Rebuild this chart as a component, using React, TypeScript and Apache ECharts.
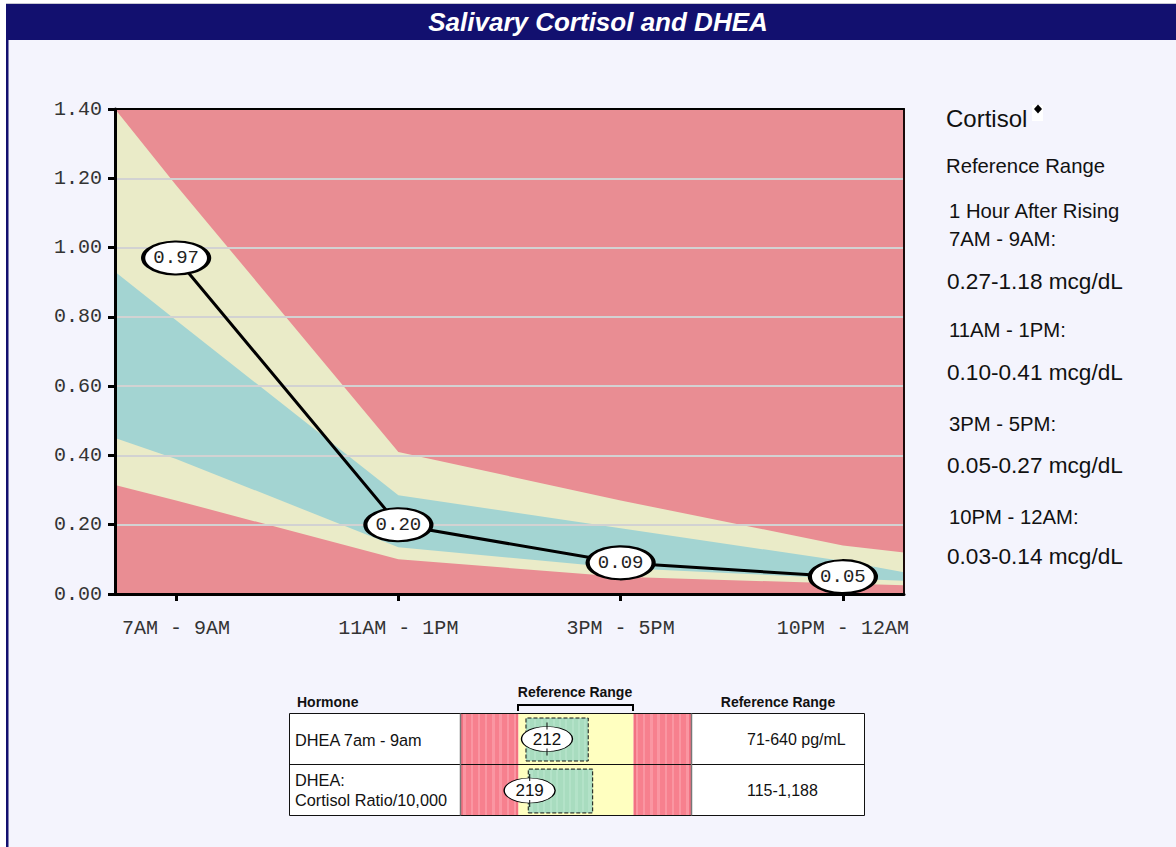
import React, { useEffect, useRef } from "react";
import * as echarts from "echarts";

// ---------- data ----------
const categories = ["7AM - 9AM", "11AM - 1PM", "3PM - 5PM", "10PM - 12AM"];
const cortisol = [0.97, 0.2, 0.09, 0.05];
const refLow = [0.27, 0.1, 0.05, 0.03];
const refHigh = [1.18, 0.41, 0.27, 0.14];

// band sample positions (category units; first / last are the plot edges)
const bandX = [-0.275, 0, 1, 2, 3, 3.275];
const upperYellowTop = [1.4, 1.18, 0.41, 0.27, 0.14, 0.12];
const tealTop = [0.93, 0.79, 0.285, 0.19, 0.095, 0.063];
const tealBottom = [0.45, 0.39, 0.135, 0.075, 0.045, 0.038];
const lowerRedTop = [0.315, 0.27, 0.1, 0.05, 0.03, 0.025];
const gridValues = [0.2, 0.4, 0.6, 0.8, 1.0, 1.2];

const dheaLabels = ["DHEA 7am - 9am", "DHEA:\nCortisol Ratio/10,000"];
const dheaValues = [212, 219];
const dheaRefLow = [71, 115];
const dheaRefHigh = [640, 1188];
const dheaOptLow = [108, 206];
const dheaOptHigh = [416, 807];
const dheaRefText = ["71-640 pg/mL", "115-1,188"];

// ---------- styles ----------
const RED = "#e98d93";
const YELLOW = "#eaebc8";
const TEAL = "#a3d4d2";
const BAR_YELLOW = "#ffffc0";
const NAVY = "#12106f";
const BG = "#f4f4fd";
const MONO = "'Liberation Mono', 'Courier New', monospace";
const SANS = "'Liberation Sans', Arial, sans-serif";

// vertical stripe texture (decorative gradient with hard stops)
const stripes = (a: string, b: string, n: number, edge?: string) => {
  const stops: any[] = [];
  for (let i = 0; i < n; i++) {
    const c = i % 3 === 1 ? b : a;
    const col = edge && (i === 0 || i === n - 1) ? edge : c;
    stops.push({ offset: i / n, color: col });
    stops.push({ offset: (i + 1) / n, color: col });
  }
  return { type: "linear", x: 0, y: 0, x2: 1, y2: 0, colorStops: stops };
};
const BAR_RED = stripes("#f7808e", "#fa96a2", 24, "#f27282");
const BAR_GREEN = stripes("#a8dcbf", "#b3e2c8", 30);

const txt = (
  text: string,
  x: number,
  y: number,
  size: number,
  o: { weight?: string; italic?: boolean; align?: string; fill?: string; lineHeight?: number } = {}
) => ({
  type: "text",
  x,
  y,
  z: 100,
  silent: true,
  style: {
    text,
    fill: o.fill || "#111",
    font: `${o.italic ? "italic " : ""}${o.weight || "normal"} ${size}px ${SANS}`,
    textAlign: o.align || "left",
    textVerticalAlign: "middle",
    align: o.align || "left",
    verticalAlign: "middle",
    lineHeight: o.lineHeight,
  },
});

function buildOption() {
  const legendItems: any[] = [];
  legendItems.push(txt("Cortisol", 946, 118, 24));
  legendItems.push({
    type: "rect",
    z: 100,
    shape: { x: 1032, y: 105, width: 11, height: 16 },
    style: { fill: "#ffffff" },
  });
  legendItems.push({
    type: "polygon",
    z: 101,
    shape: { points: [[1038, 104.5], [1042, 109], [1038, 113.5], [1034, 109]] },
    style: { fill: "#000" },
  });
  legendItems.push(txt("Reference Range", 946, 166, 20.3));
  const headY = [225, 330, 424, 517];
  const valY = [281, 372, 465, 556];
  categories.forEach((c, i) => {
    const head = i === 0 ? `1 Hour After Rising\n${c}:` : `${c}:`;
    legendItems.push(txt(head, 949, headY[i], 20.3, { lineHeight: 28 }));
    legendItems.push(
      txt(`${refLow[i].toFixed(2)}-${refHigh[i].toFixed(2)} mcg/dL`, 947, valY[i], 22.6)
    );
  });

  const tableItems: any[] = [
    {
      type: "rect",
      z: 0,
      shape: { x: 289.5, y: 713.5, width: 575, height: 102 },
      style: { fill: "#ffffff", stroke: "none" },
    },
    {
      type: "rect",
      z: 100,
      shape: { x: 289.5, y: 713.5, width: 575, height: 102 },
      style: { fill: "none", stroke: "#111", lineWidth: 1 },
    },
    {
      type: "line",
      z: 100,
      shape: { x1: 289.5, y1: 764.5, x2: 864.5, y2: 764.5 },
      style: { stroke: "#111", lineWidth: 1 },
    },
    {
      type: "line",
      z: 100,
      shape: { x1: 460.5, y1: 713.5, x2: 460.5, y2: 815.5 },
      style: { stroke: "#777", lineWidth: 1.5 },
    },
    {
      type: "line",
      z: 100,
      shape: { x1: 691.5, y1: 713.5, x2: 691.5, y2: 815.5 },
      style: { stroke: "#777", lineWidth: 1.5 },
    },
    {
      type: "polyline",
      z: 100,
      shape: { points: [[518, 711], [518, 705], [633, 705], [633, 711]] },
      style: { stroke: "#000", lineWidth: 2, fill: "none" },
    },
    txt("Hormone", 297, 702, 14, { weight: "bold" }),
    txt("Reference Range", 575, 692, 14, { weight: "bold", align: "center" }),
    txt("Reference Range", 778, 702, 14, { weight: "bold", align: "center" }),
  ];
  const rowY = [739.5, 790];
  dheaLabels.forEach((l, i) => {
    tableItems.push(txt(l, 295, rowY[i], 16.3, { lineHeight: 20 }));
    tableItems.push(txt(dheaRefText[i], 747, rowY[i], 16));
  });

  const frame: any[] = [
    { type: "rect", z: 1, shape: { x: 0, y: 0, width: 6, height: 847 }, style: { fill: "#fff" } },
    { type: "rect", z: 1, shape: { x: 0, y: 0, width: 1176, height: 3 }, style: { fill: "#fff" } },
    { type: "rect", z: 1, shape: { x: 6, y: 3, width: 1170, height: 1 }, style: { fill: "#c8c8d2" } },
    { type: "rect", z: 1, shape: { x: 6, y: 4, width: 1170, height: 36 }, style: { fill: NAVY } },
    { type: "rect", z: 1, shape: { x: 6, y: 40, width: 2.5, height: 807 }, style: { fill: NAVY } },
    txt("Salivary Cortisol and DHEA", 598, 22, 26, {
      weight: "bold",
      italic: true,
      align: "center",
      fill: "#ffffff",
    }),
  ];

  const area = (name: string, vals: number[], color: string, extra: any = {}) => ({
    name,
    type: "line",
    xAxisIndex: 0,
    yAxisIndex: 0,
    data: bandX.map((x, i) => [x, vals[i]]),
    symbol: "none",
    silent: true,
    z: 2,
    lineStyle: { width: 0, color },
    itemStyle: { color },
    areaStyle: { color, opacity: 1 },
    ...extra,
  });

  const dheaSeries: any[] = [];
  const dheaXAxes: any[] = [];
  const dheaYAxes: any[] = [];
  const dheaGrids: any[] = [
    { left: 461, top: 714, width: 230, height: 50 },
    { left: 461, top: 765, width: 230, height: 51 },
  ];
  dheaValues.forEach((v, r) => {
    const span = dheaRefHigh[r] - dheaRefLow[r];
    const axMin = dheaRefLow[r] - span / 2;
    const axMax = dheaRefHigh[r] + span / 2;
    dheaXAxes.push({ type: "value", gridIndex: r + 1, min: axMin, max: axMax, show: false });
    dheaYAxes.push({ type: "value", gridIndex: r + 1, min: 0, max: 1, show: false });
    const ax = { xAxisIndex: r + 2, yAxisIndex: r + 2 };
    dheaSeries.push({
      type: "line",
      ...ax,
      data: [[dheaRefLow[r], 0.5]],
      symbol: "none",
      lineStyle: { width: 0 },
      silent: true,
      z: 2,
      markArea: {
        silent: true,
        z: 2,
        label: { show: false },
        data: [
          [{ xAxis: axMin, yAxis: 0, itemStyle: { color: BAR_RED } }, { xAxis: dheaRefLow[r], yAxis: 1 }],
          [{ xAxis: dheaRefLow[r], yAxis: 0, itemStyle: { color: BAR_YELLOW } }, { xAxis: dheaRefHigh[r], yAxis: 1 }],
          [{ xAxis: dheaRefHigh[r], yAxis: 0, itemStyle: { color: BAR_RED } }, { xAxis: axMax, yAxis: 1 }],
          [
            {
              xAxis: dheaOptLow[r],
              yAxis: 0.06,
              itemStyle: { color: BAR_GREEN, borderColor: "#111", borderWidth: 1, borderType: "dashed" },
            },
            { xAxis: dheaOptHigh[r], yAxis: 0.92 },
          ],
        ],
      },
    });
    dheaSeries.push({
      type: "scatter",
      ...ax,
      z: 5,
      silent: true,
      data: [[v, 0.5]],
      symbol: "circle",
      symbolSize: [51, 25],
      itemStyle: { color: "#fff", borderColor: "#000", borderWidth: 1, opacity: 1 },
      label: {
        show: true,
        position: "inside",
        formatter: (p: any) => String(p.value[0]),
        fontFamily: SANS,
        fontSize: 17,
        color: "#111",
      },
    });
    [-13, 13].forEach((off) =>
      dheaSeries.push({
        type: "scatter",
        ...ax,
        z: 6,
        silent: true,
        data: [[v, 0.5]],
        symbol: "rect",
        symbolSize: [1.2, 7],
        symbolOffset: [0, off],
        itemStyle: { color: "#000" },
      })
    );
  });

  return {
    animation: false,
    backgroundColor: BG,
    graphic: { elements: [...frame, ...legendItems, ...tableItems] },
    grid: [
      {
        left: 115,
        right: 272,
        top: 109,
        bottom: 253,
        show: true,
        backgroundColor: RED,
        borderWidth: 0,
      },
      ...dheaGrids,
    ],
    xAxis: [
      {
        type: "value",
        gridIndex: 0,
        min: -0.275,
        max: 3.275,
        position: "bottom",
        z: 10,
        axisLine: { show: true, onZero: false, lineStyle: { color: "#000", width: 3 } },
        axisTick: { show: true, customValues: [0, 1, 2, 3], length: 7, lineStyle: { color: "#000", width: 3 } },
        axisLabel: {
          customValues: [0, 1, 2, 3],
          formatter: (v: number) => categories[Math.round(v)] ?? "",
          fontFamily: MONO,
          fontSize: 20,
          color: "#333",
          margin: 24,
        },
        splitLine: { show: false },
      },
      {
        type: "value",
        gridIndex: 0,
        min: -0.275,
        max: 3.275,
        position: "top",
        z: 10,
        axisLine: { show: true, onZero: false, lineStyle: { color: "#000", width: 2 } },
        axisTick: { show: false },
        axisLabel: { show: false },
        splitLine: { show: false },
      },
      ...dheaXAxes,
    ],
    yAxis: [
      {
        type: "value",
        gridIndex: 0,
        min: 0,
        max: 1.4,
        interval: 0.2,
        z: 10,
        axisLine: { show: true, onZero: false, lineStyle: { color: "#000", width: 3 } },
        axisTick: { show: true, length: 7, lineStyle: { color: "#000", width: 3 } },
        axisLabel: {
          formatter: (v: number) => v.toFixed(2),
          fontFamily: MONO,
          fontSize: 20,
          color: "#333",
          margin: 13,
        },
        splitLine: { show: false },
      },
      {
        type: "value",
        gridIndex: 0,
        min: 0,
        max: 1.4,
        position: "right",
        z: 10,
        axisLine: { show: true, onZero: false, lineStyle: { color: "#1a0a0a", width: 2 } },
        axisTick: { show: false },
        axisLabel: { show: false },
        splitLine: { show: false },
      },
      ...dheaYAxes,
    ],
    series: [
      area("upperYellow", upperYellowTop, YELLOW),
      area("teal", tealTop, TEAL),
      area("lowerYellow", tealBottom, YELLOW),
      area("lowerRed", lowerRedTop, RED, {
        markLine: {
          silent: true,
          z: 3,
          symbol: ["none", "none"],
          label: { show: false },
          lineStyle: { color: "#d2d2d2", width: 2, type: "solid" },
          data: gridValues.map((g) => ({ yAxis: g })),
        },
      }),
      {
        name: "Cortisol",
        type: "line",
        xAxisIndex: 0,
        yAxisIndex: 0,
        data: cortisol.map((v, i) => [i, v]),
        symbol: "none",
        z: 4,
        silent: true,
        lineStyle: { color: "#000", width: 3 },
      },
      {
        name: "CortisolPoints",
        type: "scatter",
        xAxisIndex: 0,
        yAxisIndex: 0,
        data: cortisol.map((v, i) => [i, v]),
        symbol: "circle",
        symbolSize: [66, 33],
        z: 5,
        silent: true,
        itemStyle: { color: "#fff", borderColor: "#000", borderWidth: 3, opacity: 1 },
        label: {
          show: true,
          position: "inside",
          formatter: (p: any) => p.value[1].toFixed(2),
          fontFamily: MONO,
          fontSize: 19,
          color: "#222",
        },
      },
      ...dheaSeries,
    ],
  };
}

export default function App() {
  const ref = useRef<HTMLDivElement>(null);
  useEffect(() => {
    if (!ref.current) return;
    const chart = echarts.init(ref.current, null, { renderer: "svg" });
    chart.setOption(buildOption() as any);
    return () => chart.dispose();
  }, []);
  return (
    <div
      ref={ref}
      style={{ position: "absolute", left: 0, top: 0, width: 1176, height: 847 }}
    />
  );
}
